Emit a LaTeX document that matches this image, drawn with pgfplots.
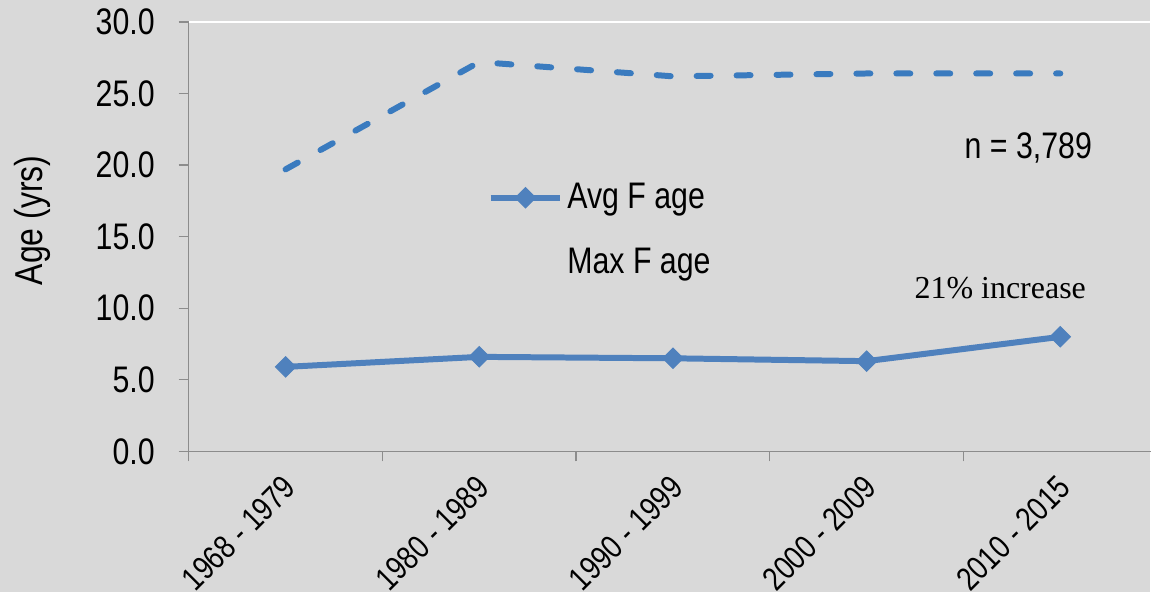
\documentclass[border=0pt]{standalone}
\usepackage{pgfplots}
\pgfplotsset{compat=1.18}
\usepackage{fontspec}
\setmainfont{Liberation Sans}[FakeStretch=0.82]
\newfontfamily\serifft{Liberation Serif}
\definecolor{bg}{HTML}{D9D9D9}
\definecolor{avgblue}{HTML}{4F81BD}
\definecolor{maxblue}{HTML}{3A7BBF}
\definecolor{axgray}{HTML}{8C8C8C}
\begin{document}
\begin{tikzpicture}[x=1pt,y=1pt]
\fill[bg] (0,0) rectangle (576,296.5);
\begin{axis}[
  at={(94.5pt,70.5pt)}, anchor=south west,
  scale only axis, width=482pt, height=215pt,
  xmin=-0.5, xmax=4.47, ymin=0, ymax=30,
  axis x line=bottom, axis y line=left,
  axis line style={draw=axgray, line width=0.7pt, -},
  tick align=outside,
  xtick={0,1,2,3,4},
  xticklabels={1968 - 1979, 1980 - 1989, 1990 - 1999, 2000 - 2009, 2010 - 2015},
  minor xtick={-0.5,0.5,1.5,2.5,3.5},
  every major x tick/.append style={draw=none},
  every minor x tick/.append style={draw=axgray, line width=0.7pt},
  minor tick length=5pt,
  major tick length=5pt,
  every major y tick/.append style={draw=axgray, line width=0.7pt},
  ytick={0,5,10,15,20,25,30},
  tick label style={font=\fontsize{18.5}{20}\selectfont},
  yticklabel style={xshift=-8.5pt, /pgf/number format/fixed, /pgf/number format/fixed zerofill,
    /pgf/number format/precision=1, /pgf/number format/assume math mode=true},
  xticklabel style={font=\fontsize{16.5}{19}\selectfont, xshift=4.5pt, rotate=45, anchor=east},
  xticklabel shift=8pt,
  ylabel={Age (yrs)},
  ylabel style={at={(axis description cs:-0.162,0.538)}, anchor=center, font=\fontsize{19.5}{22}\selectfont},
  legend style={at={(axis description cs:0.31,0.634)}, anchor=north west, draw=none, fill=none,
    font=\fontsize{18.5}{20}\selectfont, row sep=14pt, inner sep=0pt,
    cells={anchor=west}},
  legend cell align=left,
  legend image code/.code={\draw[mark repeat=2,mark phase=2,#1] plot coordinates {(0pt,0pt)(17.5pt,0pt)(35pt,0pt)};},
  clip=false,
]
\draw[white, line width=0.6pt] (rel axis cs:0,1) -- (rel axis cs:1,1);
\addplot[color=avgblue, line width=3pt, mark=square*, mark size=3.6pt,
  mark options={rotate=45, line width=0.5pt, fill=avgblue}]
  coordinates {(0,5.9) (1,6.6) (2,6.5) (3,6.3) (4,8.0)};
\addlegendentry{Avg F age}
\addplot[color=maxblue, line width=3pt, line cap=round, dash pattern=on 7pt off 13pt, forget plot]
  coordinates {(0,19.7) (1,27.2) (2,26.2) (3,26.4) (4,26.4)};
\addlegendimage{opacity=0}
\addlegendentry{Max F age}
\node[font=\fontsize{18.5}{20}\selectfont] at (axis cs:3.835,21.2) {n = 3,789};
\node[font=\serifft\fontsize{16}{19}\selectfont] at (axis cs:3.69,11.4) {21\% increase};
\end{axis}
\end{tikzpicture}
\end{document}
